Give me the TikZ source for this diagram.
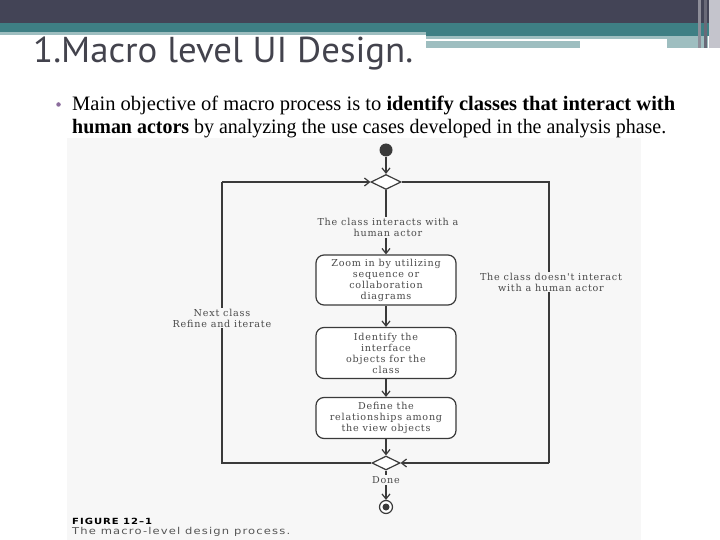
\documentclass[tikz,border=0pt]{standalone}
\usepackage{fontspec}
\usepackage{graphicx}
\usetikzlibrary{arrows.meta,shapes.geometric}
\setmainfont{Liberation Serif}
\newfontfamily\titlefont{PT Sans}
\newfontfamily\diagfont[LetterSpace=8]{DejaVu Serif}
\newfontfamily\capfont[LetterSpace=10]{DejaVu Sans}
\definecolor{darkbar}{HTML}{434456}
\definecolor{tealband}{HTML}{3E7F84}
\definecolor{lightteal}{HTML}{9EBEC0}
\definecolor{titlecol}{HTML}{43434D}
\definecolor{scanbg}{HTML}{F7F7F7}
\definecolor{dline}{HTML}{3A3A3A}
\definecolor{dtext}{HTML}{4A4A4A}
\definecolor{bulletcol}{HTML}{8B6C9C}
\definecolor{stripeA}{HTML}{8E8E99}
\definecolor{stripeB}{HTML}{6A6A78}
\definecolor{stripeC}{HTML}{C4C4CC}
\definecolor{capcol}{HTML}{555555}
\tikzset{
  dl/.style={draw=dline, line width=1.2pt},
  arr/.style={dl, -{Straight Barb[length=5pt,width=8pt]}},
  actbox/.style={draw=dline, line width=1.2pt, rounded corners=8pt, fill=white,
    minimum width=140pt, align=center, inner sep=2pt,
    font=\diagfont\fontsize{9.6}{11}\selectfont, text=dtext},
  lbl/.style={align=center, inner sep=1pt, fill=scanbg,
    font=\diagfont\fontsize{9.6}{11}\selectfont, text=dtext},
  decis/.style={diamond, draw=dline, line width=1.2pt, fill=white, inner sep=0pt,
    minimum width=30pt, minimum height=15pt, aspect=2},
}
\begin{document}
\begin{tikzpicture}[x=1pt,y=-1pt]
\useasboundingbox (0,0) rectangle (720,540);
% header bands
\fill[darkbar] (0,0) rectangle (720,23);
\fill[tealband] (0,23) rectangle (720,32);
\fill[lightteal] (0,32) rectangle (426,35);
\fill[tealband] (426,32) rectangle (720,36);
\fill[lightteal] (426,36) rectangle (667,39);
\fill[lightteal] (426,41.5) rectangle (580,48);
\fill[lightteal] (667,36) rectangle (708,48);
\fill[stripeA] (698,0) rectangle (701,48);
\fill[stripeB] (704,0) rectangle (707,48);
\fill[stripeC] (709,0) rectangle (720,48);
% title
\node[anchor=base west, inner sep=0, text=titlecol] (title) at (33,63)
  {\resizebox{380pt}{\height}{\titlefont\fontsize{36}{40}\selectfont 1.Macro level UI Design.}};
% bullet text
\node[circle, fill=bulletcol, inner sep=0, minimum size=4.5pt] (bul) at (58.5,104.5) {};
\node[anchor=base west, inner sep=0, text=black] (line1) at (72,111)
  {\resizebox{603pt}{\height}{\fontsize{20.5}{22}\selectfont Main objective of macro process is to \textbf{identify classes that interact with}}};
\node[anchor=base west, inner sep=0, text=black] (line2) at (72,134)
  {\resizebox{594pt}{\height}{\fontsize{20.5}{22}\selectfont \textbf{human actors} by analyzing the use cases developed in the analysis phase.}};
% scanned figure background
\fill[scanbg] (67,138) rectangle (641,540);
% diagram nodes
\node[circle, fill=dline, inner sep=0, minimum size=13pt] (start) at (386,150) {};
\node[decis] (d1) at (386,182) {};
\node[lbl] (l1) at (388,227.5) {The class interacts with a\\human actor};
\node[actbox, minimum height=50pt] (b1) at (386,280) {Zoom in by utilizing\\sequence or\\collaboration\\diagrams};
\node[actbox, minimum height=51pt] (b2) at (386,353) {Identify the\\interface\\objects for the\\class};
\node[actbox, minimum height=41pt] (b3) at (386,418) {Define the\\relationships among\\the view objects};
\node[decis, minimum width=28pt, minimum height=14pt] (d2) at (386,463) {};
\node[lbl] (done) at (386,480) {Done};
\node[circle, draw=dline, line width=1.2pt, fill=white, inner sep=0, minimum size=13pt] (endo) at (386,507) {};
\node[circle, fill=dline, inner sep=0, minimum size=7pt] (endi) at (endo) {};
\coordinate (tl) at (222,182);
\coordinate (bl) at (222,463);
\coordinate (tr) at (549,182);
\coordinate (br) at (549,463);
% connectors
\draw[arr] (start) -- (d1.north);
\draw[dl] (d1.south) -- (d1.south |- l1.north);
\draw[arr] (d1.south |- l1.south) -- (b1.north);
\draw[arr] (b1.south) -- (b2.north);
\draw[arr] (b2.south) -- (b3.north);
\draw[arr] (b3.south) -- (d2.north);
\draw[dl] (d2.south) -- (done.north);
\draw[arr] (done.south) -- (endo.north);
\draw[dl] (d1.east) -- (tr) -- (br);
\draw[arr] (br) -- (d2.east);
\draw[dl] (d2.west) -- (bl) -- (tl);
\draw[arr] (tl) -- (d1.west);
% loop labels (cover the lines)
\node[lbl] (rl) at (551,282) {The class doesn't interact\\with a human actor};
\node[lbl] (ll) at (222,318) {Next class\\Refine and iterate};
% caption
\node[anchor=base west, inner sep=0, text=black] (fig) at (72,524)
  {\resizebox{80pt}{\height}{\capfont\bfseries\fontsize{8.5}{10}\selectfont FIGURE 12–1}};
\node[anchor=base west, inner sep=0, text=capcol] (cap) at (72,534)
  {\resizebox{218pt}{\height}{\capfont\fontsize{9.5}{10}\selectfont The macro-level design process.}};
\end{tikzpicture}
\end{document}
